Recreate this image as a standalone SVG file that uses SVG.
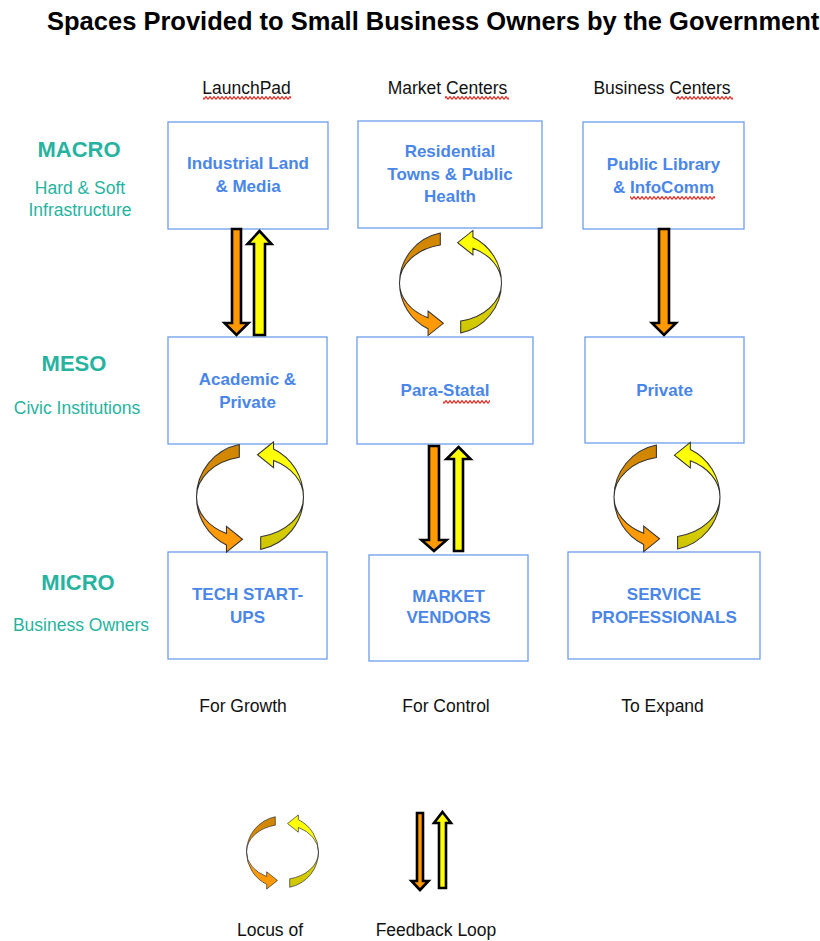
<svg xmlns="http://www.w3.org/2000/svg" xmlns:xlink="http://www.w3.org/1999/xlink" width="820" height="941" viewBox="0 0 820 941">
  <style>
    text { font-family: "Liberation Sans", Arial, sans-serif; }
    .title { font-size: 25.5px; font-weight: bold; fill: #000; }
    .col { font-size: 17.5px; fill: #111; text-anchor: middle; }
    .foot { font-size: 17.5px; fill: #111; text-anchor: middle; }
    .lvl { font-size: 22px; font-weight: bold; fill: #27B3A0; text-anchor: middle; }
    .lvlsub { font-size: 17.5px; fill: #27B3A0; text-anchor: middle; }
    .box rect.frame { fill: #fff; stroke: #6D9EEB; stroke-width: 1.3; }
    .box text { font-size: 17px; font-weight: bold; fill: #4A86E8; text-anchor: middle; }
    .down { fill: #FF9900; stroke: #000; stroke-width: 2.6; stroke-linejoin: miter; }
    .up { fill: #FFFF00; stroke: #000; stroke-width: 2.6; stroke-linejoin: miter; }
    .arc { stroke: #333; stroke-width: 1; vector-effect: non-scaling-stroke; }
    rect.wavy { fill: url(#squiggle); stroke: none; }
  </style>
  <defs>
    <linearGradient id="orangeGrad" x1="0" y1="0" x2="0" y2="1">
      <stop offset="0" stop-color="#CF8500"/>
      <stop offset="0.45" stop-color="#DE8E00"/>
      <stop offset="0.6" stop-color="#FF9A10"/>
      <stop offset="1" stop-color="#FF9900"/>
    </linearGradient>
    <!-- drawn rotated 180deg, so the top stop ends up at the bottom -->
    <linearGradient id="yellowGrad" x1="0" y1="0" x2="0" y2="1">
      <stop offset="0" stop-color="#CFC500"/>
      <stop offset="0.4" stop-color="#DCD400"/>
      <stop offset="0.55" stop-color="#FFFF10"/>
      <stop offset="1" stop-color="#FFFF00"/>
    </linearGradient>
    <!-- half of a circular loop: curved ribbon with an arrowhead, centred on 0,0 -->
    <path id="arcArrow" d="M -10,-48.99 A 50 50 0 0 0 -50,0 A 50 50 0 0 0 -22,44.9 L -22,51.5 L -7,39.5 L -22,27.5 L -22,34.12 A 50 38 0 0 1 -50,0 A 50 38 0 0 1 -10,-37.23 Z"/>
    <!-- red wavy spell-check underline -->
    <pattern id="squiggle" width="4" height="4" patternUnits="userSpaceOnUse">
      <path d="M0,3.4 L2,0.6 L4,3.4" fill="none" stroke="#E8302A" stroke-width="1.2"/>
    </pattern>
  </defs>

  <rect width="820" height="941" fill="#fff"/>

  <text class="title" x="47" y="30">Spaces Provided to Small Business Owners by the Government</text>

  <!-- column headings -->
  <g id="headings">
    <text class="col" x="246.5" y="94">LaunchPad</text>
    <text class="col" x="447.5" y="94">Market Centers</text>
    <text class="col" x="662" y="94">Business Centers</text>
    <rect class="wavy" x="203" y="96" width="88" height="4"/>
    <rect class="wavy" x="445" y="96" width="64" height="4"/>
    <rect class="wavy" x="676" y="96" width="57" height="4"/>
  </g>

  <!-- level labels -->
  <g id="level-macro">
    <text class="lvl" x="79" y="157">MACRO</text>
    <text class="lvlsub" x="80" y="194">Hard &amp; Soft</text>
    <text class="lvlsub" x="80" y="216">Infrastructure</text>
  </g>
  <g id="level-meso">
    <text class="lvl" x="74" y="371">MESO</text>
    <text class="lvlsub" x="77" y="414">Civic Institutions</text>
  </g>
  <g id="level-micro">
    <text class="lvl" x="78" y="590">MICRO</text>
    <text class="lvlsub" x="81" y="631">Business Owners</text>
  </g>

  <!-- macro row -->
  <g id="industrial-land" class="box">
    <rect class="frame" x="168" y="122" width="160" height="107"/>
    <text x="248" y="169">Industrial Land</text>
    <text x="248" y="192">&amp; Media</text>
  </g>
  <g id="residential-towns" class="box">
    <rect class="frame" x="358" y="121" width="184" height="107"/>
    <text x="450" y="157">Residential</text>
    <text x="450" y="180">Towns &amp; Public</text>
    <text x="450" y="202">Health</text>
  </g>
  <g id="public-library" class="box">
    <rect class="frame" x="583" y="122" width="161" height="107"/>
    <text x="663.5" y="170">Public Library</text>
    <text x="663.5" y="193">&amp; InfoComm</text>
    <rect class="wavy" x="630" y="196" width="85" height="4"/>
  </g>

  <!-- meso row -->
  <g id="academic-private" class="box">
    <rect class="frame" x="168" y="337" width="159" height="107"/>
    <text x="247.5" y="385">Academic &amp;</text>
    <text x="247.5" y="408">Private</text>
  </g>
  <g id="para-statal" class="box">
    <rect class="frame" x="357" y="337" width="176" height="107"/>
    <text x="445" y="396">Para-Statal</text>
    <rect class="wavy" x="443" y="400" width="47" height="4"/>
  </g>
  <g id="private" class="box">
    <rect class="frame" x="585" y="337" width="159" height="106"/>
    <text x="664.5" y="396">Private</text>
  </g>

  <!-- micro row -->
  <g id="tech-startups" class="box">
    <rect class="frame" x="168" y="552" width="159" height="107"/>
    <text x="247.5" y="600">TECH START-</text>
    <text x="247.5" y="623">UPS</text>
  </g>
  <g id="market-vendors" class="box">
    <rect class="frame" x="369" y="555" width="159" height="106"/>
    <text x="448.5" y="602">MARKET</text>
    <text x="448.5" y="623">VENDORS</text>
  </g>
  <g id="service-professionals" class="box">
    <rect class="frame" x="568" y="552" width="192" height="107"/>
    <text x="664" y="600">SERVICE</text>
    <text x="664" y="623">PROFESSIONALS</text>
  </g>

  <!-- connectors: feedback arrows and circular loops -->
  <g id="connectors">
    <!-- Industrial Land <-> Academic -->
    <polygon class="down" points="232,229 241,229 241,323 248.5,323 236.5,335 224.5,323 232,323"/>
    <polygon class="up" points="259.5,231 271.5,244 265,244 265,335 254,335 254,244 247.5,244"/>
    <!-- Para-Statal <-> Market Vendors -->
    <polygon class="down" points="429,446 439,446 439,540 446.5,540 434,551 421.5,540 429,540"/>
    <polygon class="up" points="458.5,447 470.5,459 463,459 463,551 454,551 454,459 446.5,459"/>
    <!-- Public Library -> Private -->
    <polygon class="down" points="659,229 669,229 669,323 676,323 664,335 652,323 659,323"/>

    <g id="loop-residential-parastatal" transform="translate(450.5,283) scale(1.02)">
      <use xlink:href="#arcArrow" class="arc" fill="url(#orangeGrad)"/>
      <use xlink:href="#arcArrow" class="arc" fill="url(#yellowGrad)" transform="rotate(180)"/>
    </g>
    <g id="loop-academic-tech" transform="translate(250,497) scale(1.07)">
      <use xlink:href="#arcArrow" class="arc" fill="url(#orangeGrad)"/>
      <use xlink:href="#arcArrow" class="arc" fill="url(#yellowGrad)" transform="rotate(180)"/>
    </g>
    <g id="loop-private-service" transform="translate(667,497) scale(1.06)">
      <use xlink:href="#arcArrow" class="arc" fill="url(#orangeGrad)"/>
      <use xlink:href="#arcArrow" class="arc" fill="url(#yellowGrad)" transform="rotate(180)"/>
    </g>
  </g>

  <!-- footers -->
  <g id="footers">
    <text class="foot" x="243" y="712">For Growth</text>
    <text class="foot" x="446" y="712">For Control</text>
    <text class="foot" x="662.5" y="712">To Expand</text>
  </g>

  <!-- legend -->
  <g id="legend-locus">
    <g transform="translate(282.5,852) scale(0.72)">
      <use xlink:href="#arcArrow" class="arc" fill="url(#orangeGrad)"/>
      <use xlink:href="#arcArrow" class="arc" fill="url(#yellowGrad)" transform="rotate(180)"/>
    </g>
    <text class="foot" x="270" y="936">Locus of</text>
  </g>
  <g id="legend-feedback">
    <polygon class="down" points="417,813 423,813 423,881 428.5,881 420,890 411.5,881 417,881"/>
    <polygon class="up" points="442.5,812 451,823 446,823 446,888 439,888 439,823 434,823"/>
    <text class="foot" x="436" y="936">Feedback Loop</text>
  </g>
</svg>
